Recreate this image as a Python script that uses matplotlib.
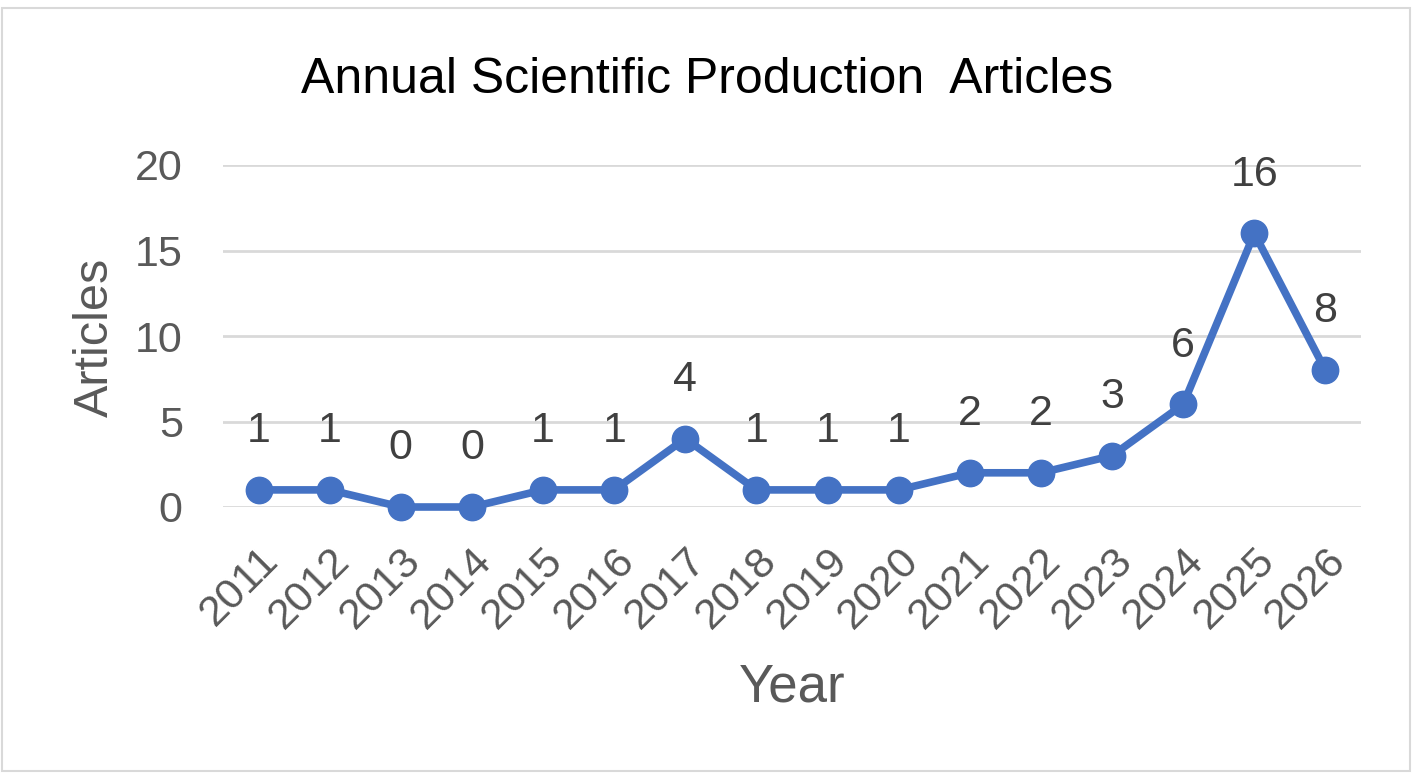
import matplotlib
matplotlib.use('Agg')
import matplotlib.pyplot as plt
from matplotlib.patches import Rectangle

plt.rcParams['font.family'] = ['Liberation Sans', 'DejaVu Sans']

# Data
years = ['2011', '2012', '2013', '2014', '2015', '2016', '2017', '2018',
         '2019', '2020', '2021', '2022', '2023', '2024', '2025', '2026']
articles = [1, 1, 0, 0, 1, 1, 4, 1, 1, 1, 2, 2, 3, 6, 16, 8]
y_ticks = [0, 5, 10, 15, 20]

W, H = 1417, 776
fig = plt.figure(figsize=(W / 100, H / 100), dpi=100)

# light grey frame round the chart
fig.patches.append(Rectangle((2 / W, 1 - 771 / H), 1408 / W, 763 / H,
                             transform=fig.transFigure, fill=False,
                             edgecolor='#d9d9d9', lw=1.5))

ax = fig.add_axes([223 / W, 1 - 507 / H, (1361 - 223) / W, (507 - 165) / H])
x = list(range(len(years)))
ax.plot(x, articles, color='#4472C4', lw=5.5, marker='o', markersize=19,
        clip_on=False, zorder=3)

for xi, yi in zip(x, articles):
    ax.annotate(str(yi), xy=(xi, yi), xytext=(0, 28), textcoords='offset points',
                ha='center', va='bottom', fontsize=31, color='#404040')

ax.set_xlim(-0.5, len(years) - 0.5)
ax.set_ylim(0, 20)
ax.set_yticks(y_ticks)
ax.set_xticks(x)
ax.set_xticklabels(years, rotation=45, ha='right', va='top', rotation_mode='anchor')
ax.tick_params(axis='both', length=0, labelsize=31, labelcolor='#595959')
ax.tick_params(axis='y', pad=29)
ax.tick_params(axis='x', pad=24)
ax.grid(axis='y', color='#d9d9d9', lw=2)
ax.set_axisbelow(True)
for s in ax.spines.values():
    s.set_visible(False)

fig.text(707 / W, 1 - 80 / H, 'Annual Scientific Production  Articles',
         ha='center', va='center', fontsize=36, color='black')
fig.text(95 / W, 1 - 337 / H, 'Articles', rotation=90, ha='center',
         va='center', fontsize=35, color='#595959')
fig.text(792 / W, 1 - 688 / H, 'Year', ha='center', va='center',
         fontsize=38, color='#595959')

plt.savefig('out.png', dpi=100)
